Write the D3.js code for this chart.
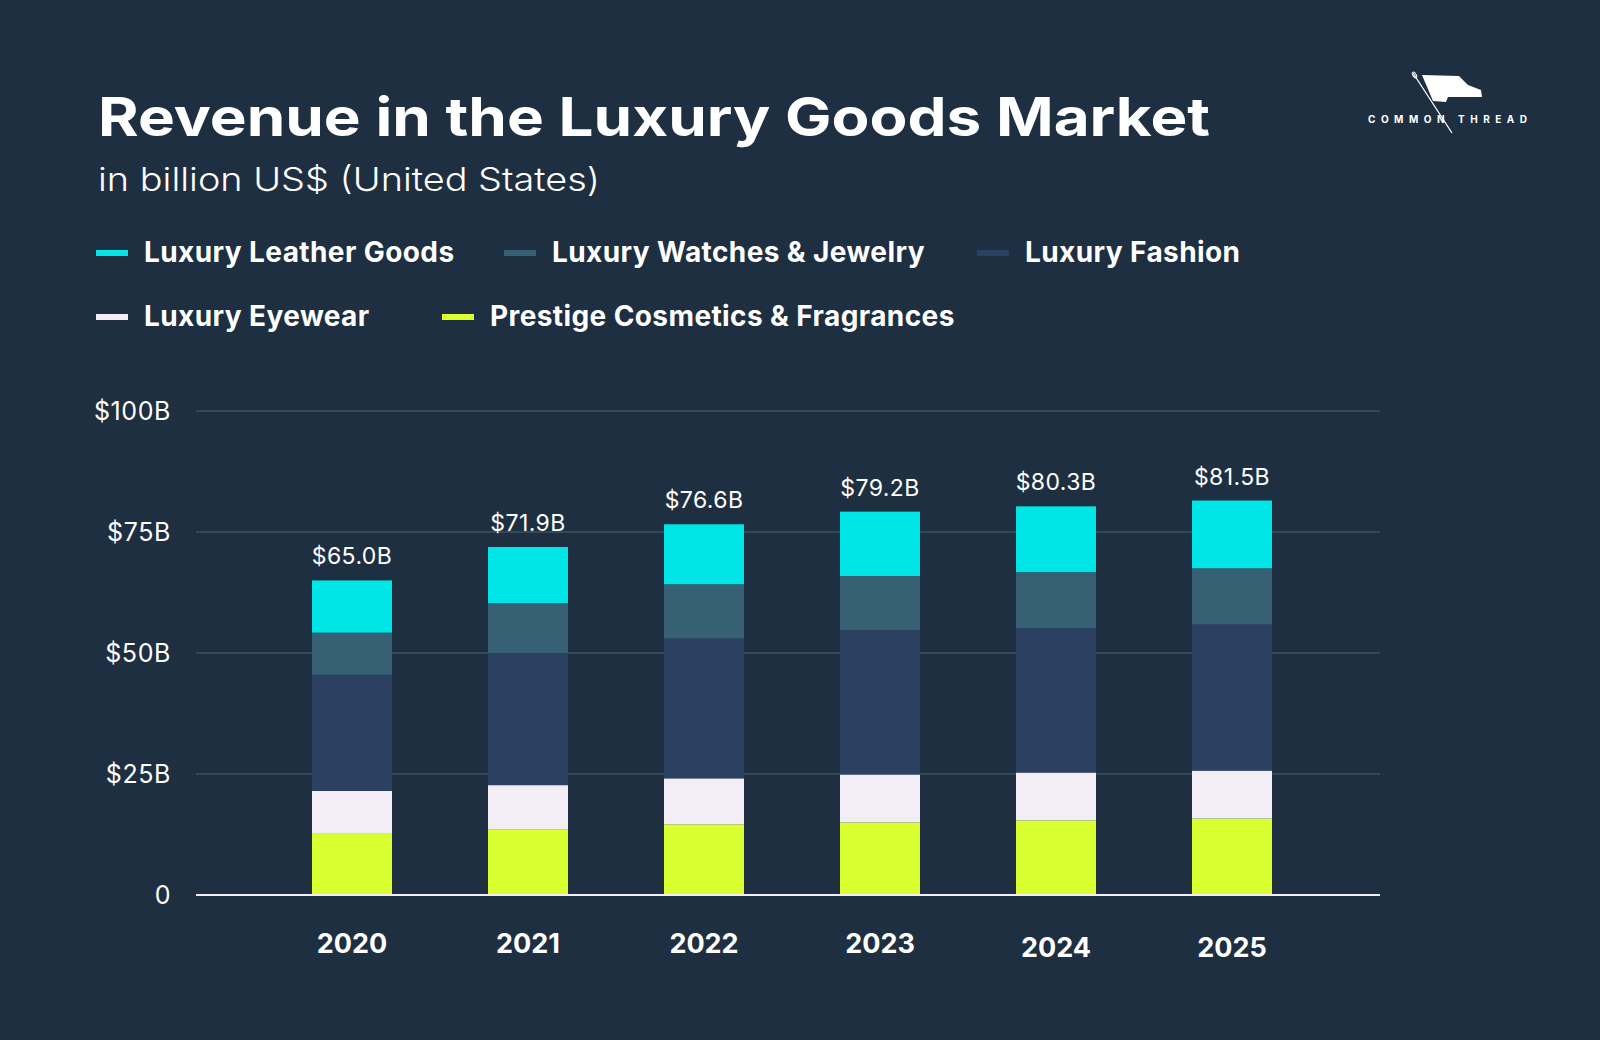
<!DOCTYPE html>
<html>
<head>
<meta charset="utf-8">
<script src="https://cdn.jsdelivr.net/npm/d3@7"></script>
<style>
  html, body { margin: 0; padding: 0; background: #1e2f41; }
  svg { display: block; }
</style>
</head>
<body>
<svg id="chart" width="1600" height="1040"></svg>
<script>
// ---------- DATA ----------
const years = ["2020", "2021", "2022", "2023", "2024", "2025"];
const seriesKeys = ["cosmetics", "eyewear", "fashion", "watches", "leather"]; // stack order bottom -> top
const seriesNames = {
  leather: "Luxury Leather Goods",
  watches: "Luxury Watches & Jewelry",
  fashion: "Luxury Fashion",
  eyewear: "Luxury Eyewear",
  cosmetics: "Prestige Cosmetics & Fragrances"
};
const cosmetics = [12.8, 13.6, 14.6, 15.0, 15.4, 15.8];
const eyewear   = [8.7, 9.1, 9.5, 9.9, 9.9, 9.9];
const fashion   = [24.0, 27.3, 28.9, 29.8, 29.8, 30.2];
const watches   = [8.7, 10.3, 11.2, 11.2, 11.6, 11.6];
const leather   = [10.8, 11.6, 12.4, 13.3, 13.6, 14.0];
const totalLabels = ["$65.0B", "$71.9B", "$76.6B", "$79.2B", "$80.3B", "$81.5B"];
const yTicks = [0, 25, 50, 75, 100];
const yTickLabels = ["0", "$25B", "$50B", "$75B", "$100B"];
const legendOrder = ["leather", "watches", "fashion", "eyewear", "cosmetics"];

// ---------- STYLE / LAYOUT ----------
const colors = {
  leather: "#00e5e5",
  watches: "#366073",
  fashion: "#2c4062",
  eyewear: "#f3eef5",
  cosmetics: "#d9ff30"
};
const legendPos = [
  { x: 96, y: 262 }, { x: 504, y: 262 }, { x: 977, y: 262 },
  { x: 96, y: 326 }, { x: 442, y: 326 }
];
const yearDy = [0, 0, 0, 0, 4, 4];
const FONT = "Inter, 'Noto Sans', sans-serif";

const table = years.map((yr, i) => ({
  year: yr,
  cosmetics: cosmetics[i], eyewear: eyewear[i], fashion: fashion[i],
  watches: watches[i], leather: leather[i]
}));

const svg = d3.select("#chart");
svg.append("rect").attr("width", 1600).attr("height", 1040).attr("fill", "#1e2f41");

// Title & subtitle
svg.append("text")
  .attr("x", 98).attr("y", 136)
  .attr("fill", "#ffffff")
  .attr("font-family", FONT).attr("font-weight", 700).attr("font-size", 54)
  .attr("textLength", 1112).attr("lengthAdjust", "spacingAndGlyphs")
  .text("Revenue in the Luxury Goods Market");

svg.append("text")
  .attr("x", 98).attr("y", 191)
  .attr("fill", "#ffffff")
  .attr("font-family", FONT).attr("font-weight", 300).attr("font-size", 33)
  .attr("textLength", 502).attr("lengthAdjust", "spacingAndGlyphs")
  .text("in billion US$ (United States)");

// Logo
const logo = svg.append("g");
logo.append("path")
  .attr("d", "M1422,75 L1459,76 L1468,85 L1481,90 L1482,97 L1448,97 L1446,102 L1433,101 Z")
  .attr("fill", "#ffffff");
logo.append("line")
  .attr("x1", 1413).attr("y1", 73).attr("x2", 1452).attr("y2", 133)
  .attr("stroke", "#ffffff").attr("stroke-width", 1.3);
logo.append("ellipse")
  .attr("cx", 1414.5).attr("cy", 75).attr("rx", 1.6).attr("ry", 3.2)
  .attr("transform", "rotate(-33 1414.5 75)")
  .attr("fill", "none").attr("stroke", "#ffffff").attr("stroke-width", 1);
logo.append("text")
  .attr("x", 1368).attr("y", 123)
  .attr("fill", "#ffffff")
  .attr("font-family", FONT).attr("font-weight", 700).attr("font-size", 10)
  .attr("textLength", 159).attr("lengthAdjust", "spacing")
  .text("COMMON THREAD");

// Legend
legendOrder.forEach((k, i) => {
  const p = legendPos[i];
  svg.append("rect")
    .attr("x", p.x).attr("y", p.y - 12).attr("width", 32).attr("height", 6)
    .attr("fill", colors[k]);
  svg.append("text")
    .attr("x", p.x + 48).attr("y", p.y)
    .attr("fill", "#ffffff")
    .attr("font-family", FONT).attr("font-weight", 700).attr("font-size", 28)
    .attr("letter-spacing", 0.4)
    .text(seriesNames[k]);
});

// Scales
const x = d3.scaleBand()
  .domain(years)
  .range([264, 1320])
  .paddingInner(96 / 176)
  .paddingOuter(48 / 176);
const y = d3.scaleLinear().domain([0, 100]).range([895, 411]);

// Gridlines
svg.append("g").selectAll("line")
  .data(yTicks.filter(d => d > 0))
  .join("line")
  .attr("x1", 196).attr("x2", 1380)
  .attr("y1", d => y(d)).attr("y2", d => y(d))
  .attr("stroke", "#34485a").attr("stroke-width", 2);

// Y axis labels
const yAxis = d3.axisLeft(y).tickValues(yTicks)
  .tickFormat((d, i) => yTickLabels[i]).tickSize(0).tickPadding(0);
const yg = svg.append("g").attr("transform", "translate(171,0)").call(yAxis);
yg.select(".domain").remove();
yg.selectAll("text")
  .attr("fill", "#ffffff")
  .attr("font-family", FONT).attr("font-weight", 400).attr("font-size", 25)
  .attr("letter-spacing", 0.6);

// Stacked bars
const stacked = d3.stack().keys(seriesKeys)(table);
svg.append("g").selectAll("g")
  .data(stacked)
  .join("g")
  .attr("fill", d => colors[d.key])
  .selectAll("rect")
  .data(d => d)
  .join("rect")
  .attr("x", d => x(d.data.year))
  .attr("width", x.bandwidth())
  .attr("y", d => y(d[1]))
  .attr("height", d => y(d[0]) - y(d[1]));

// Baseline axis
svg.append("line")
  .attr("x1", 196).attr("x2", 1380)
  .attr("y1", y(0)).attr("y2", y(0))
  .attr("stroke", "#f3eef5").attr("stroke-width", 2);

// Total labels
const topLayer = stacked[stacked.length - 1];
svg.append("g").selectAll("text")
  .data(topLayer)
  .join("text")
  .attr("x", d => x(d.data.year) + x.bandwidth() / 2)
  .attr("y", d => y(d[1]) - 16)
  .attr("text-anchor", "middle")
  .attr("fill", "#ffffff")
  .attr("font-family", FONT).attr("font-weight", 400).attr("font-size", 23)
  .attr("letter-spacing", 0.4)
  .text((d, i) => totalLabels[i]);

// X axis labels
const xAxis = d3.axisBottom(x).tickSize(0).tickPadding(0);
const xg = svg.append("g").attr("transform", "translate(0,953)").call(xAxis);
xg.select(".domain").remove();
xg.selectAll("text")
  .attr("dy", (d, i) => yearDy[i])
  .attr("y", 0)
  .attr("dominant-baseline", "auto")
  .attr("fill", "#ffffff")
  .attr("font-family", FONT).attr("font-weight", 700).attr("font-size", 27);
</script>
</body>
</html>
